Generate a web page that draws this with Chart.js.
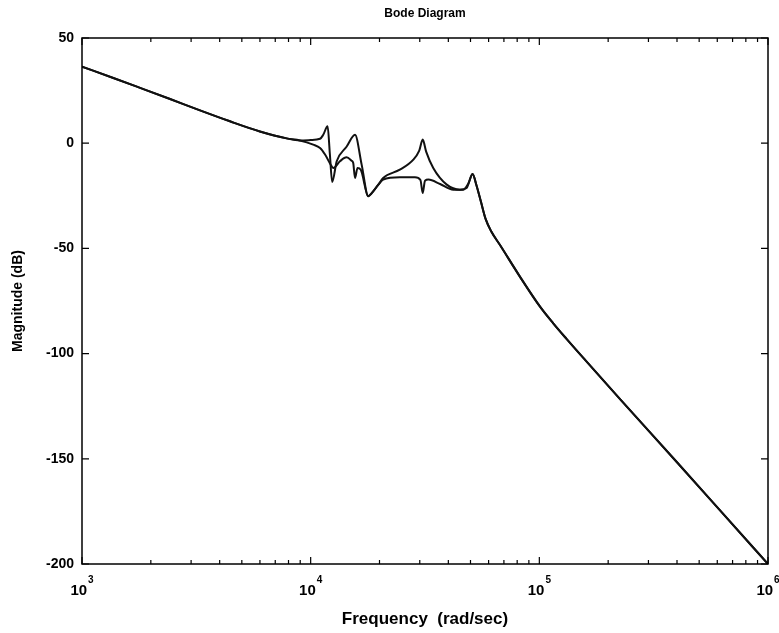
<!DOCTYPE html>
<html>
<head>
<meta charset="utf-8">
<title>Bode Diagram</title>
<script src="https://cdn.jsdelivr.net/npm/chart.js@4.4.1/dist/chart.umd.min.js"></script>
<style>
html, body { margin: 0; padding: 0; background: #fff; }
#wrap { width: 779px; height: 633px; }
</style>
</head>
<body>
<div id="wrap"><canvas id="bode" width="779" height="633"></canvas></div>
<script>
// frequency (rad/sec) and magnitude (dB)
var wA = [1000, 1371, 1795, 2427, 3281, 4436, 5998, 7852, 8974, 10000, 10990, 11350, 11860, 12130, 12420,
          13000, 14350, 15630, 16710, 17860, 18490, 19770, 20750, 24550, 28120, 29850, 30900, 31990,
          34360, 39360, 44980, 48080, 51050, 53090, 55590, 58210, 61660, 67300, 82220, 100700, 114800,
          131500, 158500, 224900, 398100, 631000, 1000000];
var magA = [36.4, 31.0, 26.3, 21.0, 15.6, 10.4, 5.6, 2.3, 1.3, 1.5, 2.1, 4.0, 8.0, -5.0, -18.4,
            -8.6, -1.7, 4.0, -10.2, -25.2, -23.7, -19.7, -16.5, -12.6, -7.8, -3.5, 1.7, -4.0,
            -11.8, -19.7, -22.1, -21.3, -14.6, -20.0, -28.0, -36.0, -42.0, -48.4, -63.4, -77.7, -85.5,
            -93.0, -103.0, -121.5, -151.4, -175.7, -200.0];

var wB = [1000, 1371, 1795, 2427, 3281, 4436, 5998, 7852, 8974, 10260, 10990, 11560, 12360, 12560,
          13430, 14350, 15100, 15350, 15630, 16030, 16560, 17860, 18490, 19770, 20750, 24550, 28580,
          30200, 30900, 31620, 32730, 36810, 42070, 46450, 48980, 51050, 53090, 55590, 58210, 61660,
          67300, 82220, 100700, 114800, 131500, 158500, 224900, 398100, 631000, 1000000];
var magB = [36.4, 31.0, 26.3, 21.0, 15.6, 10.4, 5.6, 2.3, 1.3, -0.7, -2.3, -5.4, -11.0, -11.8,
            -8.6, -6.7, -8.3, -9.4, -16.5, -11.8, -12.6, -25.2, -23.7, -19.7, -17.3, -16.2, -16.2,
            -17.5, -23.7, -17.8, -17.3, -19.4, -22.1, -22.1, -19.0, -14.6, -20.0, -28.0, -36.0, -42.0,
            -48.4, -63.4, -77.7, -85.5, -93.0, -103.0, -121.5, -151.4, -175.7, -200.0];

// x ticks: 1..9 per decade, labels only on decades
var xTicks = [1000, 2000, 3000, 4000, 5000, 6000, 7000, 8000, 9000,
              10000, 20000, 30000, 40000, 50000, 60000, 70000, 80000, 90000,
              100000, 200000, 300000, 400000, 500000, 600000, 700000, 800000, 900000, 1000000];
var xDecades = [1000, 10000, 100000, 1000000];
var xDecadeExp = ['3', '4', '5', '6'];

var FONT = '"Liberation Sans", Arial, sans-serif';

function toPoints(w, m) {
    var pts = [];
    for (var i = 0; i < w.length; i++) {
        pts.push({x: w[i], y: m[i]});
    }
    return pts;
}

function isDecade(v) {
    var e = Math.log10(v);
    return Math.abs(e - Math.round(e)) < 1e-9;
}

// MATLAB style box with inward ticks and 10^n labels
var boxTicks = {
    id: 'boxTicks',
    afterDraw: function(chart) {
        var ctx = chart.ctx;
        var a = chart.chartArea;
        var xs = chart.scales.x;
        var ys = chart.scales.y;
        ctx.save();
        ctx.strokeStyle = '#000';
        ctx.lineWidth = 1.5;
        ctx.strokeRect(a.left, a.top, a.right - a.left, a.bottom - a.top);

        ctx.lineWidth = 1.2;
        ctx.beginPath();
        xs.ticks.forEach(function(t) {
            var px = xs.getPixelForValue(t.value);
            var len = isDecade(t.value) ? 7 : 4;
            ctx.moveTo(px, a.bottom);
            ctx.lineTo(px, a.bottom - len);
            ctx.moveTo(px, a.top);
            ctx.lineTo(px, a.top + len);
        });
        ys.ticks.forEach(function(t) {
            var py = ys.getPixelForValue(t.value);
            ctx.moveTo(a.left, py);
            ctx.lineTo(a.left + 7, py);
            ctx.moveTo(a.right, py);
            ctx.lineTo(a.right - 7, py);
        });
        ctx.stroke();

        ctx.fillStyle = '#000';
        ctx.textBaseline = 'alphabetic';
        ctx.textAlign = 'left';
        for (var i = 0; i < xDecades.length; i++) {
            var px = xs.getPixelForValue(xDecades[i]);
            ctx.font = 'bold 15px ' + FONT;
            var wBase = ctx.measureText('10').width;
            ctx.font = 'bold 10px ' + FONT;
            var wExp = ctx.measureText(xDecadeExp[i]).width;
            var x0 = px - (wBase + wExp + 1) / 2;
            ctx.font = 'bold 15px ' + FONT;
            ctx.fillText('10', x0, a.bottom + 31);
            ctx.font = 'bold 10px ' + FONT;
            ctx.fillText(xDecadeExp[i], x0 + wBase + 1, a.bottom + 19);
        }
        ctx.restore();
    }
};

var ctx = document.getElementById('bode').getContext('2d');
var bodeChart = new Chart(ctx, {
    type: 'line',
    data: {
        datasets: [
            {
                label: 'A',
                data: toPoints(wA, magA),
                borderColor: '#111',
                borderWidth: 2,
                pointRadius: 0,
                cubicInterpolationMode: 'monotone',
                fill: false
            },
            {
                label: 'B',
                data: toPoints(wB, magB),
                borderColor: '#111',
                borderWidth: 2,
                pointRadius: 0,
                cubicInterpolationMode: 'monotone',
                fill: false
            }
        ]
    },
    options: {
        responsive: false,
        animation: false,
        layout: { padding: { left: 0, right: 11, top: 0, bottom: 0 } },
        plugins: {
            legend: { display: false },
            tooltip: { enabled: false },
            title: {
                display: true,
                text: 'Bode Diagram',
                fullSize: false,
                color: '#000',
                font: { family: FONT, size: 12, weight: 'bold' },
                padding: { top: 6, bottom: 17.6 }
            }
        },
        scales: {
            x: {
                type: 'logarithmic',
                min: 1000,
                max: 1000000,
                afterBuildTicks: function(s) {
                    s.ticks = xTicks.map(function(v) { return {value: v}; });
                },
                afterFit: function(s) { s.height = 69; },
                grid: { display: false, drawTicks: false },
                border: { display: false },
                ticks: { display: false },
                title: {
                    display: true,
                    text: 'Frequency  (rad/sec)',
                    color: '#000',
                    font: { family: FONT, size: 17, weight: 'bold' },
                    padding: { top: 0, bottom: 3 }
                }
            },
            y: {
                min: -200,
                max: 50,
                afterFit: function(s) { s.width = 82; },
                grid: { display: false, drawTicks: false },
                border: { display: false },
                ticks: {
                    stepSize: 50,
                    padding: 8,
                    color: '#000',
                    font: { family: FONT, size: 14, weight: 'bold' }
                },
                title: {
                    display: true,
                    text: 'Magnitude (dB)',
                    color: '#000',
                    font: { family: FONT, size: 14, weight: 'bold' },
                    padding: { top: 10, bottom: 0 }
                }
            }
        }
    },
    plugins: [boxTicks]
});
</script>
</body>
</html>
